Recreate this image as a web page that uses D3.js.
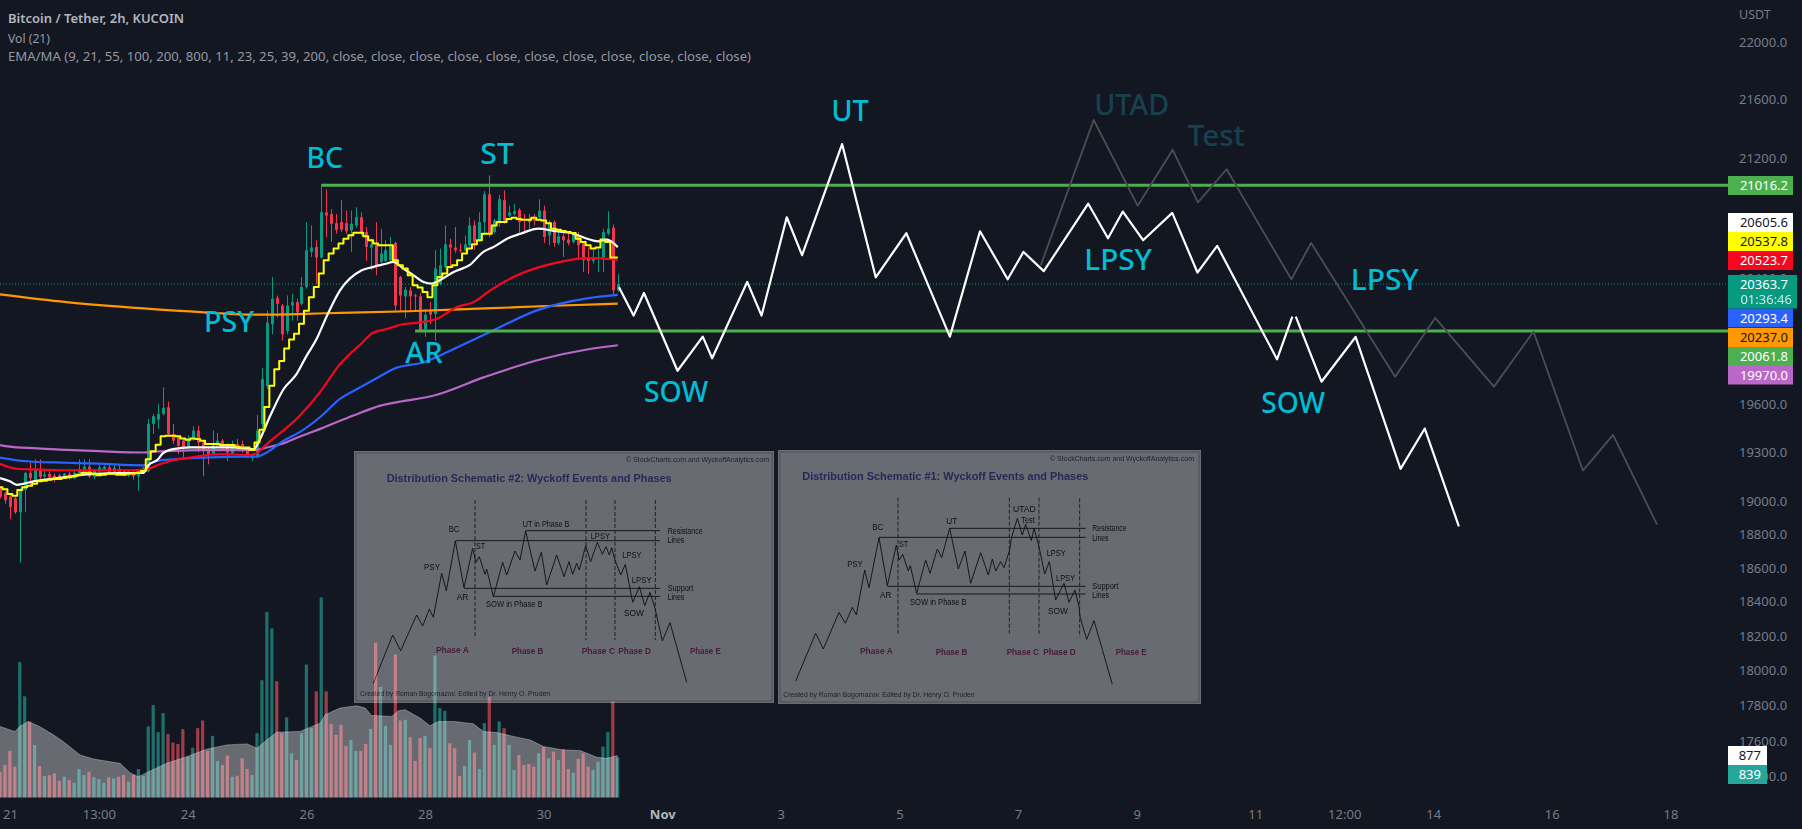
<!DOCTYPE html>
<html><head><meta charset="utf-8">
<script src="https://cdn.jsdelivr.net/npm/d3@7"></script>
<style>
html,body{margin:0;padding:0;background:#131722;overflow:hidden}
svg{display:block}
text{font-family:"Noto Sans",sans-serif}
</style></head><body>
<svg id="c" width="1802" height="829"></svg>
<script>
// ---------- candles: [open, high, low, close], one row per 2h bar ----------
const ohlc=[
[19069,19089,19017,19027],[19048,19058,18985,19006],[19027,19037,18892,18964],[19017,19027,18923,18933],[18933,19079,18631,19069],
[19069,19177,18933,19173],[19173,19235,19089,19141],[19131,19256,19121,19194],[19198,19256,19135,19148],[19152,19198,19141,19162],
[19167,19194,19137,19146],[19156,19169,19114,19144],[19158,19167,19135,19139],[19141,19173,19137,19169],[19167,19177,19131,19141],
[19139,19194,19135,19173],[19169,19256,19152,19194],[19189,19256,19164,19210],[19210,19256,19141,19152],[19148,19194,19135,19185],
[19181,19225,19173,19206],[19194,19219,19183,19210],[19206,19225,19167,19173],[19177,19219,19173,19204],[19198,19225,19169,19177],
[19183,19189,19152,19156],[19156,19189,19148,19183],[19177,19189,19131,19152],[19152,19194,19064,19181],[19177,19210,19173,19204],
[19183,19506,19177,19475],[19475,19537,19412,19523],[19502,19600,19444,19537],[19537,19704,19527,19575],[19579,19614,19406,19412],
[19412,19475,19350,19371],[19391,19402,19287,19339],[19371,19381,19256,19329],[19329,19402,19323,19385],[19381,19460,19371,19433],
[19433,19464,19298,19360],[19360,19371,19152,19308],[19308,19329,19225,19287],[19287,19433,19281,19350],[19339,19418,19329,19371],
[19371,19381,19308,19329],[19339,19356,19246,19298],[19294,19371,19281,19350],[19350,19381,19308,19329],[19350,19371,19298,19314],
[19314,19329,19266,19266],[19266,19294,19246,19287],[19277,19531,19266,19433],[19475,19825,19440,19756],[19712,20192,19693,20114],
[20105,20410,20040,20269],[20275,20290,20148,20236],[20225,20236,19999,20040],[20061,20290,20040,20225],[20225,20301,20127,20247],
[20247,20269,20127,20181],[20236,20410,20225,20345],[20345,20771,20334,20585],[20574,20749,20541,20603],[20607,20651,20367,20537],
[20537,21011,20530,20836],[20836,20989,20672,20814],[20825,20858,20640,20760],[20764,20825,20694,20720],[20771,20917,20705,20720],
[20764,20847,20694,20710],[20716,20847,20574,20760],[20749,20869,20734,20803],[20803,20836,20683,20705],[20705,20738,20515,20607],
[20603,20661,20454,20624],[20618,20771,20421,20487],[20509,20727,20498,20563],[20515,20651,20509,20585],[20520,20672,20509,20618],
[20633,20640,20192,20225],[20410,20417,20192,20290],[20284,20345,20144,20327],[20323,20345,20192,20284],[20290,20301,20192,20284],
[20284,20306,20061,20066],[20072,20203,20024,20166],[20192,20247,20105,20166],[20170,20585,19999,20465],[20367,20596,20356,20487],
[20476,20749,20465,20624],[20624,20661,20465,20603],[20603,20738,20568,20585],[20589,20629,20568,20581],[20585,20683,20574,20624],
[20618,20803,20607,20749],[20749,20782,20589,20640],[20651,20836,20640,20771],[20771,20978,20683,20956],[20956,21083,20672,20694],
[20705,20792,20694,20782],[20771,20952,20738,20923],[20917,20982,20760,20782],[20814,20880,20803,20836],[20825,20891,20814,20843],
[20851,20864,20694,20771],[20792,20825,20694,20782],[20792,20825,20727,20771],[20792,20825,20749,20782],[20803,20923,20792,20847],
[20847,20880,20633,20672],[20683,20782,20618,20771],[20771,20782,20607,20633],[20633,20716,20618,20677],[20677,20694,20541,20651],
[20655,20694,20618,20633],[20640,20705,20629,20694],[20683,20705,20520,20618],[20629,20640,20443,20520],[20530,20603,20428,20515],
[20515,20585,20498,20537],[20530,20596,20443,20537],[20537,20727,20443,20705],[20694,20843,20683,20727],[20734,20755,20297,20323],
[20323,20428,20312,20363.7]];
// ---------- volume, one per bar ----------
const volume=[539,679,973,644,2828,2114,1589,1099,658,448,469,504,350,434,364,308,588,469,539,420,385,308,420,399,434,469,329,469,595,448,
1484,1932,1365,1764,1330,1148,1120,1428,854,1043,1449,1610,973,1288,763,679,875,434,455,819,595,469,1344,2450,3878,3535,2429,1344,1673,924,
784,1344,2779,1449,2219,4179,2219,1540,1309,1519,1078,1204,973,973,1120,1435,3234,2310,1498,1099,2989,1610,1624,1260,763,1239,1288,1029,2968,1869,
1813,1134,1029,448,658,1204,938,595,1554,2100,1099,1589,1449,1099,574,889,679,700,644,924,1050,819,959,784,1008,595,518,805,924,644,574,749,1064,1365,2009,839];
const smaBars=[0,3,4,5.7,8,10.8,12.8,16.2,18.9,24.3,26.3,28,29.7,33.7,37.8,41.8,45.9,50,52,54,56,60.7,62.8,64.8,65.8,68.8,72.2,73.9,75.2,79.3,80.6,82,85,87,88.7,91.8,95.8,97.8,100.5,104.6,107.3,110,114,117.4,120.8,122.8,125];
const smaVals=[1484,1379,1484,1589,1484,1309,1169,889,805,714,518,434,518,714,854,1008,1099,1120,1029,1204,1365,1379,1470,1554,1729,1869,1918,1869,1715,1694,1813,1834,1659,1498,1589,1589,1540,1379,1358,1260,1204,1064,994,980,840,819,877];
// ---------- moving averages ----------
const yellowVals=[19085,19073,19044,19033,19069,19085,19094,19106,19121,19125,19131,19135,19135,19141,19146,19152,19162,19173,19173,19167,19158,19162,19167,19167,19162,19162,19167,19169,19173,19185,
19256,19305,19346,19398,19402,19402,19398,19385,19377,19385,19381,19371,19350,19350,19350,19344,19344,19344,19333,19329,19329,19314,19360,19439,19581,19714,19818,19870,19950,20006,
20043,20107,20192,20279,20345,20432,20520,20563,20596,20629,20661,20683,20701,20701,20677,20651,20629,20618,20618,20618,20520,20487,20465,20421,20356,20341,20312,20279,20356,20410,
20432,20476,20487,20520,20563,20596,20624,20651,20694,20694,20749,20771,20771,20792,20799,20792,20786,20786,20799,20786,20782,20764,20727,20720,20712,20705,20699,20661,20640,20618,20596,20603,20655,20640,20537,20537.8];
const whiteBars=[0,2,3.4,4.7,6.8,10,13.5,17,20,24,29,30,32,33,35,38.5,42,47,51.4,52.3,54.7,57.4,60,62,64,66,68.8,73.2,75.6,78.3,79.6,81.6,83.7,85.7,87.4,89,91.8,95,97.8,99.9,102.6,105.3,109,112,116,118.8,121,122.8,125];
const whiteVals=[19141,19121,19100,19106,19121,19135,19148,19162,19167,19171,19173,19219,19256,19294,19319,19329,19329,19329,19319,19362,19527,19693,19787,19901,20006,20148,20323,20454,20476,20498,20509,20465,20421,20378,20367,20389,20443,20487,20574,20607,20661,20694,20727,20712,20694,20661,20644,20655,20605.6];
const redBars=[0,3.4,6.8,13.5,20,27,29.7,31.8,35,38.5,44,47,50.3,52,53.6,60.7,64.8,68.8,72.9,75.5,78.3,81,85,88.4,92.4,95.8,99.2,103.9,109.3,113.4,118.8,125];
const redVals=[19229,19198,19194,19189,19189,19189,19194,19219,19250,19266,19287,19287,19281,19294,19339,19527,19675,19850,19975,20050,20074,20101,20116,20140,20214,20247,20323,20410,20476,20509,20533,20523.7];
const blueBars=[0,3.4,6.8,13.5,20,29,31.8,35,40.5,46,52,54,57.4,60.8,64.8,68.8,72.9,77,79.5,85.7,93,100,108.5,118.8,125];
const blueVals=[19266,19250,19241,19235,19229,19219,19246,19256,19266,19271,19273,19298,19371,19427,19518,19631,19704,19775,19818,19862,19964,20068,20192,20271,20293.4];
const purpleBars=[0,3.4,6.8,13.5,20,29,31.8,35,40.5,47,52,54,58,60.5,64.8,71.5,77,80.6,87.8,98,109.5,118.8,125];
const purpleVals=[19344,19329,19325,19314,19306,19298,19304,19308,19312,19312,19314,19329,19362,19394,19444,19527,19589,19612,19652,19768,19881,19943,19970];
const orangeBars=[0,13.4,29,41.3,51.6,66,82.6,98.2,113.6,125];
const orangeVals=[20297,20247,20206,20181,20166,20175,20188,20206,20225,20237];
// ---------- projected paths (bar number, price) ----------
const proj1Bars=[125.25,128.2,130.3,137.1,142.2,144.1,151.2,154.1,159.2,162.3,170.4,177.2,183.4,192.2,198.3,203.9,207.1,211.2,220.2,224.2,227.2,231.3,237.2,242.3,246.3,258.4,261.5];
const proj1Vals=[20343,20160,20306,19808,20025,19887,20378,20160,20803,20553,21295,20408,20697,20025,20710,20395,20574,20448,20893,20664,20841,20651,20832,20439,20614,19881,20153];
const proj2Bars=[262.2,267.4,274.3,283.4,288.3,295.2];
const proj2Vals=[20153,19739,20023,19197,19446,18848];
const altBars=[210.6,221.3,230.2,237.3,242.4,248.2,261.3,265.3,282.3,290.4,302.3,310.3,320.3,326.4,335.3];
const altVals=[20487,21459,20880,21256,20902,21124,20395,20633,19770,20145,19708,20058,19187,19407,18859];
// ---------- levels ----------
const resistance=21016.2, support=20061.8, resistanceFrom=65, supportFrom=84, lastPrice=20363.7;
// ---------- axes ----------
const priceTicks=[22000,21600,21200,20400,19600,19300,19000,18800,18600,18400,18200,18000,17800,17600,17400];
const dateTicks=["2022-10-21T00:00Z","2022-10-22T12:00Z","2022-10-24T00:00Z","2022-10-26T00:00Z","2022-10-28T00:00Z","2022-10-30T00:00Z","2022-11-01T00:00Z","2022-11-03T00:00Z","2022-11-05T00:00Z","2022-11-07T00:00Z","2022-11-09T00:00Z","2022-11-11T00:00Z","2022-11-12T12:00Z","2022-11-14T00:00Z","2022-11-16T00:00Z","2022-11-18T00:00Z"];
const dateLabels=["21","13:00","24","26","28","30","Nov","3","5","7","9","11","12:00","14","16","18"];
const axisLabels=["21016.2","20605.6","20537.8","20523.7","20293.4","20237.0","20061.8","19970.0"];
const axisLabelFill=["#4caf50","#ffffff","#ffff00","#f7061f","#2962ff","#ff9800","#4caf50","#ba68c8"];
const axisLabelText=["#fff","#131722","#131722","#fff","#fff","#131722","#fff","#fff"];
const axisLabelTop=[176,213,232,251,308.5,328,347,365.5];
const headerLines=["Bitcoin / Tether, 2h, KUCOIN","Vol (21)","EMA/MA (9, 21, 55, 100, 200, 800, 11, 23, 25, 39, 200, close, close, close, close, close, close, close, close, close, close, close)"];
// ---------- Wyckoff notes: text, first bar, price baseline, width in bars ----------
const noteText=["BC","ST","PSY","AR","SOW","UT","UTAD","Test","LPSY","LPSY","SOW"];
const noteBar=[62,97.2,41.3,82,130.3,168.2,221.4,240.3,219.4,273.3,255.2];
const noteEnd=[69.4,104,51.4,89.6,143.3,175.8,236.6,251.9,233.1,287.1,268.1];
const notePrice=[21131,21158,20052,19860,19614,21455,21490,21280,20454,20323,19540];
const noteDim=[0,0,0,0,0,0,1,1,0,0,0];
// ---------- the two schematics, in the units of their own picture (1290 x 795) ----------
const sch2Path=[[70,715],[128,570],[152,617],[200,510],[218,543],[238,492],[250,517],[275,385],[289,437],[316,288],[342,428],[368,310],[378,352],[388,335],[405,388],[410,372],[430,455],[458,352],[470,390],[495,318],[510,345],[527,258],[555,378],[574,322],[590,420],[620,330],[642,395],[657,350],[668,388],[680,355],[688,375],[707,302],[722,350],[742,292],[757,328],[768,305],[778,330],[785,308],[795,345],[812,390],[826,358],[848,472],[868,425],[884,482],[900,442],[915,490],[937,588],[960,533],[1010,712]];
const sch2Rules=[[316,287,930],[527,257,930],[342,430,930],[430,454,930]];
const sch2Dash=[[375,165,580],[708,165,585],[795,165,585],[916,165,585]];
const sch2Text=[["BC",296,328,253],["ST",378,405,303],["PSY",222,270,367],["AR",320,355,457],["UT in Phase B",518,658,238],["LPSY",722,780,273],["LPSY",817,875,331],["LPSY",845,905,405],["SOW",822,882,503],["SOW in Phase B",408,578,477],["Resistance",953,1058,257],["Lines",953,1003,285],["Support",953,1030,429],["Lines",953,1003,457]];
const sch2Phase=[["Phase A",258,356,613],["Phase B",485,580,615],["Phase C",695,795,615],["Phase D",805,903,615],["Phase E",1020,1112,615]];
const sch2Title=["Distribution Schematic #2: Wyckoff Events and Phases",110,965,100];
const sch2Copy=["© StockCharts.com and WyckoffAnalytics.com",828,1257,43];
const sch2Credit=["Created by Roman Bogomazov. Edited by Dr. Henry O. Pruden",30,600,745];
const sch1Path=[[65,708],[125,565],[148,612],[195,502],[214,535],[235,487],[247,510],[272,375],[285,428],[315,278],[340,422],[367,300],[375,345],[386,328],[403,378],[409,362],[428,445],[455,345],[468,385],[490,312],[503,338],[527,250],[553,372],[573,318],[590,415],[620,323],[643,390],[655,342],[665,378],[680,350],[690,368],[707,315],[712,280],[730,220],[745,270],[755,238],[772,287],[780,250],[795,305],[812,387],[826,350],[845,465],[870,415],[885,472],[903,435],[915,485],[918,515],[938,583],[960,527],[1015,718]];
const sch1Rules=[[315,277,935],[527,250,935],[340,424,935],[428,447,935]];
const sch1Dash=[[372,158,572],[706,158,572],[795,158,572],[917,160,575]];
const sch1Text=[["BC",295,328,245],["ST",375,403,296],["PSY",220,266,356],["AR",318,352,451],["UT",517,550,229],["SOW in Phase B",408,578,470],["UTAD",717,785,192],["Test",742,782,225],["LPSY",818,875,323],["LPSY",846,903,398],["SOW",822,882,497],["Resistance",955,1058,249],["Lines",955,1003,278],["Support",955,1033,422],["Lines",955,1005,451]];
const sch1Phase=[["Phase A",258,356,617],["Phase B",485,580,619],["Phase C",698,795,619],["Phase D",808,905,619],["Phase E",1025,1118,619]];
const sch1Title=["Distribution Schematic #1: Wyckoff Events and Phases",85,943,93];
const sch1Copy=["© StockCharts.com and WyckoffAnalytics.com",828,1260,41];
const sch1Credit=["Created by Roman Bogomazov. Edited by Dr. Henry O. Pruden",28,602,749];

// ---------- layout ----------
const W=1802,H=829,paneR=1728,BG="#131722";
const UP="#089981",DOWN="#f23650",CYAN="#00bcd4",GREEN="#4caf50",AXIS="#787b86",HEAD="#b2b5be";
const svg=d3.select("#c");
const t0=Date.UTC(2022,9,20,20),BAR=2*3600e3,barDate=b=>new Date(t0+b*BAR);
const x=d3.scaleUtc().domain([barDate(0),barDate(350)]).range([0,350*4.942]);
const y=d3.scaleLog().domain([22000,17600]).range([42,741]);
const yV=d3.scaleLinear().domain([0,4200]).range([797.5,596.5]);
const xb=b=>x(barDate(b));

svg.append("rect").attr("width",W).attr("height",H).attr("fill",BG);

// volume
svg.append("g").selectAll("rect").data(volume).join("rect")
 .attr("x",(d,i)=>xb(i)-1.6).attr("width",3.2)
 .attr("y",d=>yV(d)).attr("height",d=>yV(0)-yV(d))
 .attr("fill",(d,i)=>ohlc[i][3]>=ohlc[i][0]?"#26a69a":"#f7525f").attr("opacity",.62);
const sma=smaBars.map((b,i)=>[b,smaVals[i]]);
svg.append("path").datum(sma).attr("fill","rgba(255,255,255,.36)")
 .attr("d",d3.area().x(d=>xb(d[0])).y0(yV(0)).y1(d=>yV(d[1])));
svg.append("path").datum(sma).attr("fill","none").attr("stroke","rgba(255,255,255,.3)").attr("stroke-width",1)
 .attr("d",d3.line().x(d=>xb(d[0])).y(d=>yV(d[1])));

// last-price dotted line
svg.append("line").attr("x1",0).attr("x2",paneR).attr("y1",y(lastPrice)).attr("y2",y(lastPrice))
 .attr("stroke",UP).attr("stroke-width",1).attr("stroke-dasharray","1 2");

// candles
const cg=svg.append("g").selectAll("g").data(ohlc).join("g").attr("fill",d=>d[3]>=d[0]?UP:DOWN).attr("stroke",d=>d[3]>=d[0]?UP:DOWN);
cg.append("line").attr("x1",(d,i)=>Math.round(xb(i))+.5).attr("x2",(d,i)=>Math.round(xb(i))+.5).attr("y1",d=>y(d[1])).attr("y2",d=>y(d[2])).attr("stroke-width",1);
cg.append("rect").attr("stroke","none").attr("x",(d,i)=>Math.round(xb(i))-1).attr("width",3)
 .attr("y",d=>y(Math.max(d[0],d[3]))).attr("height",d=>Math.max(1,Math.abs(y(d[0])-y(d[3]))));

// moving averages
const lineOf=(bars,vals,c,w,curve)=>svg.append("path").datum(vals.map((v,i)=>[bars?bars[i]:i,v])).attr("fill","none")
 .attr("stroke",c).attr("stroke-width",w).attr("stroke-linejoin","round")
 .attr("d",d3.line().x(d=>xb(d[0])).y(d=>y(d[1])).curve(curve||d3.curveLinear));
lineOf(purpleBars,purpleVals,"#ba68c8",2.2,d3.curveMonotoneX);
lineOf(orangeBars,orangeVals,"#ff9800",2.2,d3.curveMonotoneX);
lineOf(blueBars,blueVals,"#2962ff",2.2,d3.curveMonotoneX);
lineOf(redBars,redVals,"#f7061f",2.2,d3.curveMonotoneX);
lineOf(whiteBars,whiteVals,"#ffffff",2.2,d3.curveMonotoneX);
lineOf(null,yellowVals,"#ffff00",2,d3.curveStep);

// levels
[[resistance,resistanceFrom],[support,supportFrom]].forEach(([p,from])=>{
 svg.append("line").attr("x1",xb(from)).attr("x2",paneR).attr("y1",y(p)).attr("y2",y(p)).attr("stroke",GREEN).attr("stroke-width",3);
});

// projections
lineOf(altBars,altVals,"#4b4e54",1.8);
lineOf(proj1Bars,proj1Vals,"#ffffff",2.2);
lineOf(proj2Bars,proj2Vals,"#ffffff",2.2);

// schematic panels
function schematic(px,py,pw,ph,path,rules,dash,texts,phases,title,copy,credit){
 const sx=d3.scaleLinear().domain([0,1290]).range([px-4,px-4+430]);
 const sy=d3.scaleLinear().domain([0,795]).range([445,710]);
 const g=svg.append("g").attr("opacity",.36).style("filter","blur(.35px)");
 g.append("rect").attr("x",px).attr("y",py).attr("width",pw).attr("height",ph).attr("fill","#fff");
 g.append("rect").attr("x",px+2).attr("y",py+2).attr("width",pw-4).attr("height",ph-4).attr("fill","none").attr("stroke","#b5b5b5").attr("stroke-width",1);
 g.selectAll("path.s").data([path]).join("path").attr("fill","none").attr("stroke","#000").attr("stroke-width",.9)
  .attr("d",d3.line().x(d=>sx(d[0])).y(d=>sy(d[1])));
 g.selectAll("line.r").data(rules).join("line").attr("x1",d=>sx(d[0])).attr("x2",d=>sx(d[2])).attr("y1",d=>sy(d[1])).attr("y2",d=>sy(d[1])).attr("stroke","#000").attr("stroke-width",.9);
 g.selectAll("line.d").data(dash).join("line").attr("x1",d=>sx(d[0])).attr("x2",d=>sx(d[0])).attr("y1",d=>sy(d[1])).attr("y2",d=>sy(d[2])).attr("stroke","#333").attr("stroke-width",1).attr("stroke-dasharray","4 2");
 const put=(rows,size,weight,fill)=>rows.forEach(r=>g.append("text").text(r[0]).attr("x",sx(r[1])).attr("y",sy(r[3])).attr("dominant-baseline","central")
   .attr("textLength",sx(r[2])-sx(r[1])).attr("lengthAdjust","spacingAndGlyphs")
   .style("font-family","'Liberation Sans',sans-serif").style("font-size",size+"px").style("font-weight",weight).attr("fill",fill));
 put(texts,8.5,400,"#000");
 put(phases,9.5,700,"#a02c58");
 put([title],11,700,"#4a4ab8");
 put([copy],7,400,"#333");
 put([credit],7,400,"#333");
}
schematic(354,451,420,252,sch2Path,sch2Rules,sch2Dash,sch2Text,sch2Phase,sch2Title,sch2Copy,sch2Credit);
schematic(778,450,423,254,sch1Path,sch1Rules,sch1Dash,sch1Text,sch1Phase,sch1Title,sch1Copy,sch1Credit);

// Wyckoff notes
noteText.forEach((t,i)=>{
 svg.append("text").text(t).attr("x",xb(noteBar[i])).attr("y",y(notePrice[i]))
  .attr("textLength",xb(noteEnd[i])-xb(noteBar[i])).attr("lengthAdjust","spacingAndGlyphs")
  .style("font-size","29px").style("font-weight",500).attr("fill",noteDim[i]?"#17414f":CYAN);
});

// header
headerLines.forEach((t,i)=>{
 const sel=svg.append("text").text(t).attr("x",8).attr("y",[23,43,61][i]).attr("fill",i?"#9598a1":HEAD).style("font-size","13px").style("font-weight",i?400:600);
 sel.attr("textLength",[176,42,743][i]).attr("lengthAdjust","spacingAndGlyphs");
});

// axes
const ya=svg.append("g").attr("transform",`translate(1739,0)`).call(d3.axisRight(y).tickValues(priceTicks).tickFormat(d3.format(".1f")).tickSize(0).tickPadding(0));
ya.select(".domain").remove();
ya.selectAll("text").attr("fill",AXIS).style("font-size","13px").style("font-family","'Noto Sans',sans-serif");
svg.append("text").text("USDT").attr("x",1739).attr("y",19).attr("fill",AXIS).style("font-size","12.5px");
const dates=dateTicks.map(d=>new Date(d));
const xa=svg.append("g").attr("transform","translate(0,809.4)").call(d3.axisBottom(x).tickValues(dates).tickSize(0).tickPadding(0)
  .tickFormat((d,i)=>dateLabels[i]));
xa.select(".domain").remove();
xa.selectAll("text").attr("fill",(d,i)=>dateLabels[i]==="Nov"?HEAD:AXIS).style("font-size","13px").style("font-weight",(d,i)=>dateLabels[i]==="Nov"?700:400).style("font-family","'Noto Sans',sans-serif");

// axis price labels
const lab=svg.append("g");
axisLabels.forEach((t,i)=>{
 lab.append("rect").attr("x",paneR).attr("y",axisLabelTop[i]).attr("width",65).attr("height",19).attr("fill",axisLabelFill[i]);
 lab.append("text").text(t).attr("x",paneR+65-5).attr("y",axisLabelTop[i]+14).attr("text-anchor","end").attr("fill",axisLabelText[i]).style("font-size","13px");
});
lab.append("rect").attr("x",paneR).attr("y",275).attr("width",69).attr("height",33.5).attr("fill",UP);
lab.append("text").text(d3.format(".1f")(lastPrice)).attr("x",paneR+60).attr("y",289).attr("text-anchor","end").attr("fill","#fff").style("font-size","13px");
lab.append("text").text("01:36:46").attr("x",paneR+64).attr("y",304).attr("text-anchor","end").attr("fill","#fff").attr("opacity",.8).style("font-size","13px");
// volume labels
const volLast=volume[volume.length-1], smaLast=smaVals[smaVals.length-1];
lab.append("rect").attr("x",paneR).attr("y",746).attr("width",39).attr("height",19).attr("fill","#fff");
lab.append("text").text(smaLast).attr("x",paneR+33).attr("y",760).attr("text-anchor","end").attr("fill","#131722").style("font-size","13px");
lab.append("rect").attr("x",paneR).attr("y",765).attr("width",39).attr("height",19).attr("fill","#26a69a");
lab.append("text").text(volLast).attr("x",paneR+33).attr("y",779).attr("text-anchor","end").attr("fill","#fff").style("font-size","13px");
</script>
</body></html>
